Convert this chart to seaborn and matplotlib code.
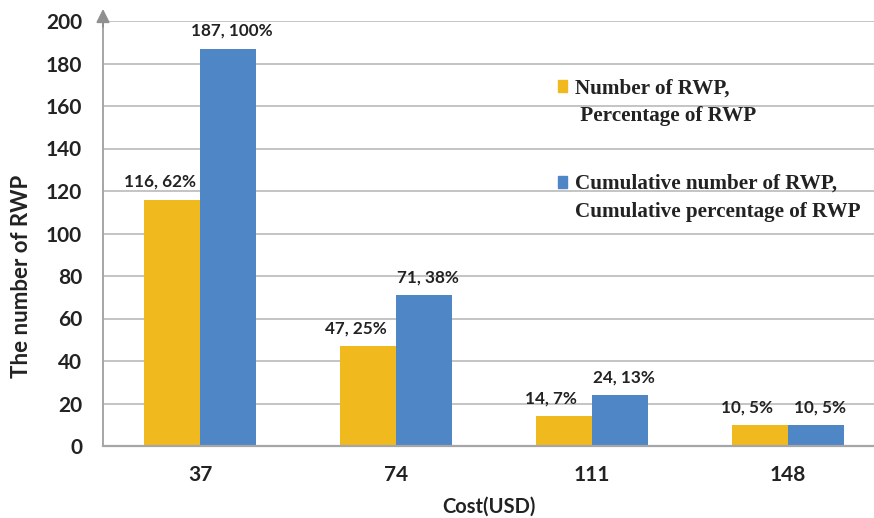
import matplotlib
matplotlib.use("Agg")
import matplotlib.pyplot as plt
import seaborn as sns
import pandas as pd
from matplotlib.patches import Rectangle

costs = ["37", "74", "111", "148"]
number_rwp = [116, 47, 14, 10]
pct_rwp = [62, 25, 7, 5]
cum_number_rwp = [187, 71, 24, 10]
cum_pct_rwp = [100, 38, 13, 5]
series_names = ["Number of RWP", "Cumulative number of RWP"]
legend_labels = ["Number of RWP,\n Percentage of RWP",
                 "Cumulative number of RWP,\nCumulative percentage of RWP"]
colors = ["#F0B91E", "#4F86C6"]

df = pd.DataFrame({
    "cost": costs * 2,
    "value": number_rwp + cum_number_rwp,
    "series": [series_names[0]] * 4 + [series_names[1]] * 4,
})

sns.set_theme(style="white")
plt.rcParams["font.family"] = ["Lato", "DejaVu Sans"]

fig = plt.figure(figsize=(8.74, 5.18), dpi=100)
ax = fig.add_axes([103 / 874, 72 / 518, (874 - 103) / 874, 425 / 518])

sns.barplot(data=df, x="cost", y="value", hue="series", palette=colors,
            width=0.57, saturation=1, ax=ax, legend=False, linewidth=0)

ax.set_ylim(0, 200)
ax.set_xlim(-0.495, 3.44)
ax.set_yticks(range(0, 201, 20))
ax.yaxis.grid(True, color="#c4c4c4", linewidth=1.4)
ax.set_axisbelow(True)
for s in ["top", "right"]:
    ax.spines[s].set_visible(False)
ax.spines["left"].set_color("#a6a6a6")
ax.spines["left"].set_linewidth(1.4)
ax.spines["bottom"].set_color("#a6a6a6")
ax.spines["bottom"].set_linewidth(1.6)
ax.tick_params(axis="y", length=0, labelsize=15, pad=15)
ax.tick_params(axis="x", length=0, labelsize=15, pad=14)
for lab in ax.get_xticklabels() + ax.get_yticklabels():
    lab.set_fontweight("bold")
    lab.set_color("#222222")

# arrow on y axis
ax.annotate("", xy=(0, 1.035), xytext=(0, 0.98), xycoords="axes fraction",
            arrowprops=dict(arrowstyle="-|>", color="#909090", lw=1.4,
                            mutation_scale=20), annotation_clip=False)

ax.set_xlabel("Cost(USD)", fontsize=14.5, fontweight="bold", color="#222222", labelpad=8)
ax.set_ylabel("The number of RWP", fontsize=16, fontweight="bold", color="#222222")
ax.yaxis.set_label_coords(-0.092, 0.40)

# value labels
containers = ax.containers
offsets = [-9, 3]
for cont, vals, pcts, dx in zip(containers, [number_rwp, cum_number_rwp],
                                [pct_rwp, cum_pct_rwp], offsets):
    labels = [f"{v}, {p}%" for v, p in zip(vals, pcts)]
    texts = ax.bar_label(cont, labels=labels, padding=7, fontsize=12.3,
                         fontweight="bold", color="#222222")
    for t in texts:
        t.xyann = (dx, t.xyann[1])

# legend (manual)
serif = ["Liberation Serif", "DejaVu Serif"]
ys = [0.845, 0.620]
for col, lab, y in zip(colors, legend_labels, ys):
    ax.add_patch(Rectangle((0.590, y - 0.012), 0.012, 0.028, transform=ax.transAxes,
                           color=col, clip_on=False))
    ax.text(0.6125, y + 0.020, lab, transform=ax.transAxes, fontsize=15.2,
            fontweight="bold", family=serif, va="top", ha="left", color="#222222",
            linespacing=1.5)

fig.savefig("out.png", dpi=100)
